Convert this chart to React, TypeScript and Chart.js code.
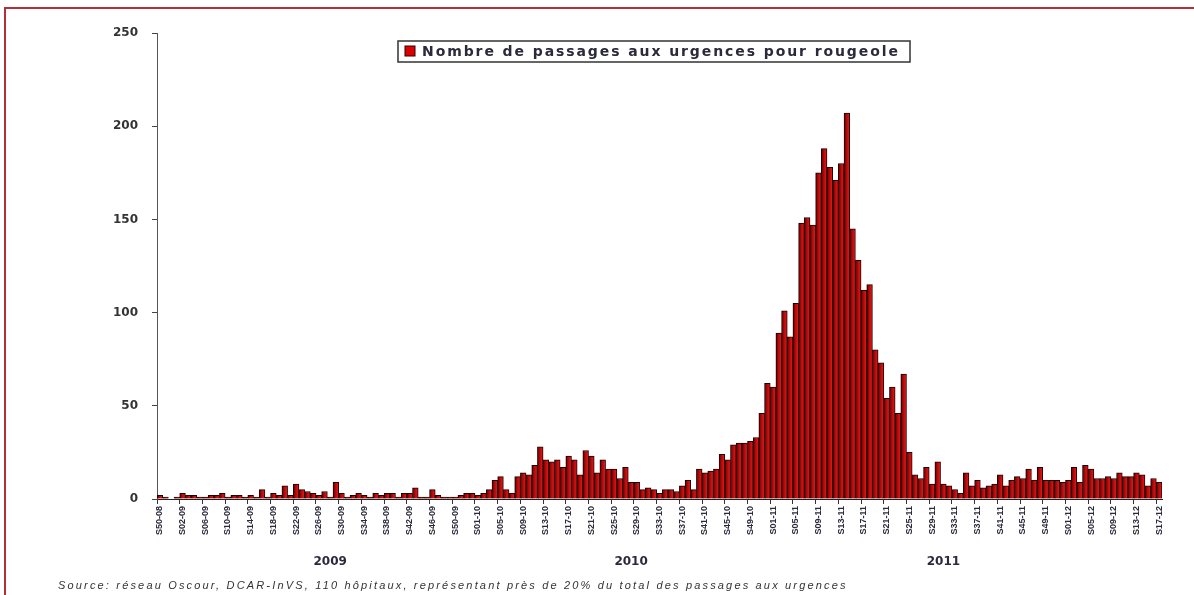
import React, { useEffect, useRef } from "react";
import { Chart, registerables } from "chart.js";

Chart.register(...registerables);

// Weekly categories (ISO week - year)
const weekLabels: string[] = [
  "S50-08", "S51-08", "S52-08",
  "S01-09", "S02-09", "S03-09", "S04-09", "S05-09", "S06-09", "S07-09", "S08-09", "S09-09", "S10-09",
  "S11-09", "S12-09", "S13-09", "S14-09", "S15-09", "S16-09", "S17-09", "S18-09", "S19-09", "S20-09",
  "S21-09", "S22-09", "S23-09", "S24-09", "S25-09", "S26-09", "S27-09", "S28-09", "S29-09", "S30-09",
  "S31-09", "S32-09", "S33-09", "S34-09", "S35-09", "S36-09", "S37-09", "S38-09", "S39-09", "S40-09",
  "S41-09", "S42-09", "S43-09", "S44-09", "S45-09", "S46-09", "S47-09", "S48-09", "S49-09", "S50-09",
  "S51-09", "S52-09", "S53-09",
  "S01-10", "S02-10", "S03-10", "S04-10", "S05-10", "S06-10", "S07-10", "S08-10", "S09-10", "S10-10",
  "S11-10", "S12-10", "S13-10", "S14-10", "S15-10", "S16-10", "S17-10", "S18-10", "S19-10", "S20-10",
  "S21-10", "S22-10", "S23-10", "S24-10", "S25-10", "S26-10", "S27-10", "S28-10", "S29-10", "S30-10",
  "S31-10", "S32-10", "S33-10", "S34-10", "S35-10", "S36-10", "S37-10", "S38-10", "S39-10", "S40-10",
  "S41-10", "S42-10", "S43-10", "S44-10", "S45-10", "S46-10", "S47-10", "S48-10", "S49-10", "S50-10",
  "S51-10", "S52-10",
  "S01-11", "S02-11", "S03-11", "S04-11", "S05-11", "S06-11", "S07-11", "S08-11", "S09-11", "S10-11",
  "S11-11", "S12-11", "S13-11", "S14-11", "S15-11", "S16-11", "S17-11", "S18-11", "S19-11", "S20-11",
  "S21-11", "S22-11", "S23-11", "S24-11", "S25-11", "S26-11", "S27-11", "S28-11", "S29-11", "S30-11",
  "S31-11", "S32-11", "S33-11", "S34-11", "S35-11", "S36-11", "S37-11", "S38-11", "S39-11", "S40-11",
  "S41-11", "S42-11", "S43-11", "S44-11", "S45-11", "S46-11", "S47-11", "S48-11", "S49-11", "S50-11",
  "S51-11", "S52-11",
  "S01-12", "S02-12", "S03-12", "S04-12", "S05-12", "S06-12", "S07-12", "S08-12", "S09-12", "S10-12",
  "S11-12", "S12-12", "S13-12", "S14-12", "S15-12", "S16-12", "S17-12",
];

// Number of emergency visits for measles, per week
const passages: number[] = [
  2, 1, 0, 1, 3, 2, 2, 1, 1, 2,
  2, 3, 1, 2, 2, 1, 2, 1, 5, 1,
  3, 2, 7, 2, 8, 5, 4, 3, 2, 4,
  1, 9, 3, 1, 2, 3, 2, 1, 3, 2,
  3, 3, 1, 3, 3, 6, 1, 1, 5, 2,
  1, 1, 1, 2, 3, 3, 2, 3, 5, 10,
  12, 5, 3, 12, 14, 13, 18, 28, 21, 20,
  21, 17, 23, 21, 13, 26, 23, 14, 21, 16,
  16, 11, 17, 9, 9, 5, 6, 5, 3, 5,
  5, 4, 7, 10, 5, 16, 14, 15, 16, 24,
  21, 29, 30, 30, 31, 33, 46, 62, 60, 89,
  101, 87, 105, 148, 151, 147, 175, 188, 178, 171,
  180, 207, 145, 128, 112, 115, 80, 73, 54, 60,
  46, 67, 25, 13, 11, 17, 8, 20, 8, 7,
  5, 3, 14, 7, 10, 6, 7, 8, 13, 7,
  10, 12, 11, 16, 10, 17, 10, 10, 10, 9,
  10, 17, 9, 18, 16, 11, 11, 12, 11, 14,
  12, 12, 14, 13, 7, 11, 9,
];

const yTicks: number[] = [0, 50, 100, 150, 200, 250];
const tickEvery = 4;

const yearLabels: string[] = ["2009", "2010", "2011"];
const yearLabelWeeks: string[] = ["S28-09", "S28-10", "S31-11"];

const seriesLabel = "Nombre de passages aux urgences pour rougeole";
const sourceText =
  "Source: réseau Oscour, DCAR-InVS, 110 hôpitaux, représentant près de 20% du total des passages aux urgences";

const decorations = {
  id: "decorations",
  beforeDraw(chart: any) {
    const ctx = chart.ctx;
    ctx.save();
    ctx.fillStyle = "#ffffff";
    ctx.fillRect(0, 0, chart.width, chart.height);
    ctx.strokeStyle = "#b3303a";
    ctx.lineWidth = 2;
    ctx.beginPath();
    ctx.moveTo(5, chart.height);
    ctx.lineTo(5, 8);
    ctx.lineTo(chart.width, 8);
    ctx.stroke();
    ctx.restore();
  },
  afterDraw(chart: any) {
    const ctx = chart.ctx;
    const area = chart.chartArea;
    const xs = chart.scales.x;

    // Legend box
    ctx.save();
    const boxLeft = area.left + 241;
    const boxTop = area.top + 8;
    const boxW = 512;
    const boxH = 21;
    ctx.fillStyle = "#ffffff";
    ctx.fillRect(boxLeft, boxTop, boxW, boxH);
    ctx.strokeStyle = "#333333";
    ctx.lineWidth = 1.5;
    ctx.strokeRect(boxLeft, boxTop, boxW, boxH);
    ctx.fillStyle = "#dd0000";
    ctx.fillRect(boxLeft + 7, boxTop + 5, 10, 10);
    ctx.strokeStyle = "#330000";
    ctx.lineWidth = 1;
    ctx.strokeRect(boxLeft + 7, boxTop + 5, 10, 10);
    ctx.font = 'bold 14px "DejaVu Sans"';
    ctx.letterSpacing = "0px";
    const w0 = ctx.measureText(seriesLabel).width;
    const sp = Math.max(0, (478 - w0) / seriesLabel.length);
    ctx.letterSpacing = sp.toFixed(2) + "px";
    ctx.fillStyle = "#2a2a3a";
    ctx.textBaseline = "middle";
    ctx.textAlign = "left";
    ctx.fillText(seriesLabel, boxLeft + 24, boxTop + boxH / 2 + 1);
    ctx.restore();

    // Year labels
    ctx.save();
    ctx.font = 'bold 12px "DejaVu Sans"';
    ctx.fillStyle = "#2a2a3a";
    ctx.textAlign = "center";
    ctx.textBaseline = "middle";
    yearLabels.forEach((y, i) => {
      const idx = weekLabels.indexOf(yearLabelWeeks[i]);
      const x = xs.getPixelForValue(idx);
      ctx.fillText(y, x, area.bottom + 63);
    });
    ctx.restore();

    // Source
    ctx.save();
    ctx.font = 'italic 11px "Liberation Sans"';
    ctx.letterSpacing = "0px";
    const s0 = ctx.measureText(sourceText).width;
    const ss = Math.max(0, (790 - s0) / sourceText.length);
    ctx.letterSpacing = ss.toFixed(2) + "px";
    ctx.fillStyle = "#333333";
    ctx.textAlign = "left";
    ctx.textBaseline = "middle";
    ctx.fillText(sourceText, 58, area.bottom + 87);
    ctx.restore();
  },
};

export default function App() {
  const canvasRef = useRef<HTMLCanvasElement | null>(null);

  useEffect(() => {
    if (!canvasRef.current) return;
    const chart = new Chart(canvasRef.current, {
      type: "bar",
      data: {
        labels: weekLabels,
        datasets: [
          {
            label: seriesLabel,
            data: passages,
            backgroundColor: (c: any) => {
              const ch = c.chart;
              const xs = ch.scales && ch.scales.x;
              if (!ch.chartArea || !xs || c.dataIndex === undefined) return "#b00c0c";
              const cx = xs.getPixelForValue(c.dataIndex);
              const w = xs.width / weekLabels.length;
              const g = ch.ctx.createLinearGradient(cx - w / 2, 0, cx + w / 2, 0);
              g.addColorStop(0, "#5a0000");
              g.addColorStop(0.5, "#b80c0c");
              g.addColorStop(1, "#f01818");
              return g;
            },
            borderColor: "#1e0000",
            borderWidth: 1,
            barPercentage: 1,
            categoryPercentage: 1,
          },
        ],
      },
      options: {
        animation: false,
        responsive: false,
        devicePixelRatio: 1,
        layout: { padding: { top: 33, right: 32, left: 0, bottom: 0 } },
        plugins: {
          legend: { display: false },
          tooltip: { enabled: false },
          title: { display: false },
        },
        scales: {
          x: {
            type: "category",
            offset: true,
            grid: {
              offset: true,
              drawOnChartArea: false,
              drawTicks: true,
              tickLength: 5,
              color: (c: any) => (c.index % tickEvery === 0 ? "#333333" : "rgba(0,0,0,0)"),
            },
            border: { display: true, color: "#222222", width: 1 },
            ticks: {
              autoSkip: false,
              minRotation: 90,
              maxRotation: 90,
              padding: 2,
              color: "#2a2a3a",
              font: { family: "Arial", size: 9, weight: "bold" },
              callback: (_v: any, i: number) => (i % tickEvery === 0 ? weekLabels[i] : ""),
            },
            afterFit: (s: any) => {
              s.height = 96;
            },
          },
          y: {
            min: 0,
            max: 250,
            afterBuildTicks: (s: any) => {
              s.ticks = yTicks.map((v) => ({ value: v }));
            },
            grid: {
              drawOnChartArea: false,
              drawTicks: true,
              tickLength: 5,
              color: "#444444",
            },
            border: { display: true, color: "#555555", width: 1 },
            ticks: {
              padding: 14,
              color: "#333333",
              font: { family: "DejaVu Sans", size: 12, weight: "bold" },
            },
            afterFit: (s: any) => {
              s.width = 157;
            },
          },
        },
      },
      plugins: [decorations],
    } as any);
    return () => chart.destroy();
  }, []);

  return (
    <div
      style={{
        position: "absolute",
        left: 0,
        top: 0,
        width: 1194,
        height: 595,
        background: "#ffffff",
        overflow: "hidden",
      }}
    >
      <canvas ref={canvasRef} width={1194} height={595} style={{ display: "block" }} />
    </div>
  );
}
